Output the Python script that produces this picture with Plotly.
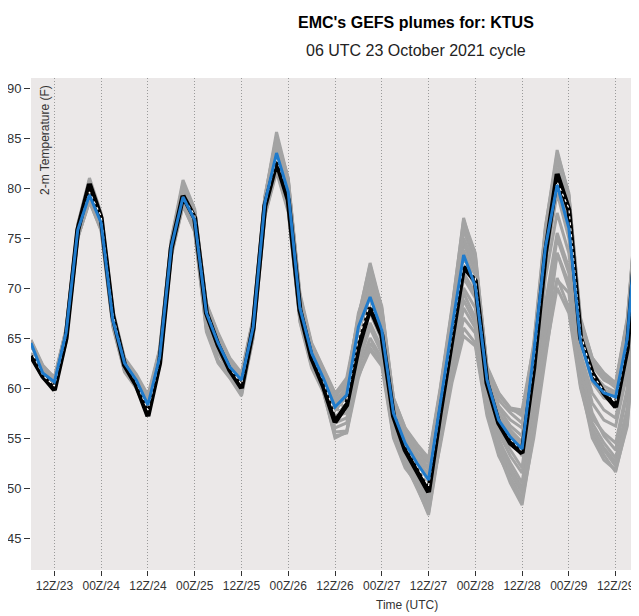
import pandas as pd
import plotly.graph_objects as go

# 3-hourly forecast times from the 06 UTC 23 Oct 2021 cycle
times = pd.date_range("2021-10-23 06:00", periods=53, freq="3h")

tick_times = pd.date_range("2021-10-23 12:00", periods=13, freq="12h")
tick_labels = ["12Z/23", "00Z/24", "12Z/24", "00Z/25", "12Z/25", "00Z/26", "12Z/26",
               "00Z/27", "12Z/27", "00Z/28", "12Z/28", "00Z/29", "12Z/29"]
y_ticks = [45, 50, 55, 60, 65, 70, 75, 80, 85, 90]

ens_mean = [64.5, 61.5, 60.6, 65.5, 75.8, 79.3, 76.5, 66.8, 62.5, 60.8, 58.3, 63.1, 74.1, 79.1,
            76.8, 67.5, 64.5, 62.1, 60.8, 66.1, 78.5, 83.5, 79.6, 68.0, 63.5, 61.0, 58.1, 59.3,
            66.1, 69.1, 65.8, 57.5, 54.5, 52.5, 50.8, 58.5, 66.0, 73.3, 70.2, 60.8, 56.8, 55.1,
            53.9, 63.5, 74.1, 80.3, 76.0, 64.6, 60.8, 59.5, 59.1, 65.0, 79.5]

control = [63.2, 61.2, 59.8, 65.0, 75.8, 80.4, 77.0, 67.2, 62.3, 60.3, 57.2, 62.5, 74.0, 79.2,
           77.0, 67.5, 64.3, 61.8, 60.0, 66.0, 78.2, 82.6, 78.8, 67.8, 63.0, 60.2, 56.6, 58.3,
           64.0, 68.0, 65.3, 57.2, 53.8, 51.8, 49.6, 57.5, 64.5, 72.1, 70.7, 60.5, 56.5, 54.5,
           53.5, 62.0, 73.5, 81.4, 77.8, 65.0, 61.5, 59.5, 58.1, 64.0, 78.5]

deterministic = [63.8, 61.3, 60.2, 65.2, 75.8, 79.6, 77.2, 67.4, 62.5, 60.6, 57.8, 62.8, 74.0, 79.1,
                 77.3, 67.8, 64.5, 62.0, 60.4, 66.0, 78.3, 83.0, 79.5, 68.3, 63.4, 60.7, 57.4, 58.8,
                 65.0, 68.5, 66.0, 57.8, 54.3, 52.2, 50.2, 58.0, 65.2, 72.6, 71.0, 61.0, 56.9, 54.9,
                 53.7, 62.6, 73.8, 80.6, 78.0, 65.5, 61.4, 59.7, 58.6, 64.5, 79.0]

member_01 = [64.8, 62.3, 61.0, 65.8, 76.3, 80.8, 77.3, 67.6, 62.9, 61.2, 59.0, 63.8, 74.8, 80.5, 77.6, 68.3, 65.2, 62.8, 61.4, 66.8, 79.0, 85.2, 80.8, 69.2, 64.2, 61.8, 59.2, 60.5, 67.2, 72.3, 67.8, 58.8, 55.5, 53.6, 52.5, 59.5, 67.5, 76.5, 73.0, 61.8, 58.8, 57.5, 56.5, 64.0, 75.5, 83.5, 79.5, 66.5, 62.8, 61.2, 60.3, 66.5, 80.8]
member_02 = [63.2, 61.0, 59.9, 64.6, 75.1, 78.6, 75.8, 66.2, 61.7, 60.1, 57.3, 62.2, 73.2, 78.2, 75.7, 65.8, 62.6, 61.1, 59.3, 65.1, 77.3, 81.8, 77.8, 66.7, 62.2, 59.7, 55.0, 55.6, 61.5, 64.0, 62.5, 55.2, 52.3, 50.2, 47.3, 54.5, 61.0, 66.0, 64.5, 57.5, 53.5, 50.5, 48.3, 55.5, 63.5, 70.0, 67.5, 60.0, 55.5, 53.3, 51.6, 56.5, 70.2]
member_03 = [64.2, 61.8, 60.4, 65.2, 75.6, 79.8, 76.9, 67.0, 62.4, 60.6, 58.0, 63.4, 74.3, 79.6, 77.2, 67.8, 64.8, 62.4, 60.5, 66.4, 78.7, 84.2, 80.2, 68.5, 63.9, 61.4, 58.6, 59.8, 66.8, 70.5, 66.5, 58.0, 55.0, 52.9, 51.3, 58.8, 66.5, 74.5, 71.5, 61.2, 57.5, 55.8, 54.6, 63.2, 75.0, 82.0, 78.0, 65.5, 61.5, 60.2, 59.6, 65.8, 80.0]
member_04 = [63.8, 61.4, 60.2, 65.0, 75.3, 79.0, 76.2, 66.5, 62.0, 60.4, 57.8, 62.7, 73.6, 78.5, 76.0, 66.6, 63.5, 61.6, 60.0, 65.6, 77.8, 82.4, 78.5, 67.3, 62.8, 60.3, 57.0, 58.0, 63.5, 66.2, 63.8, 56.2, 53.2, 51.2, 49.0, 56.3, 63.2, 69.5, 67.0, 59.0, 54.8, 52.5, 50.5, 58.5, 68.5, 75.5, 72.0, 62.5, 57.5, 55.2, 53.8, 59.5, 74.0]
member_05 = [64.6, 62.0, 60.9, 65.9, 76.0, 80.2, 77.0, 67.3, 62.8, 61.0, 58.8, 63.6, 74.6, 80.0, 77.5, 68.0, 65.0, 62.6, 61.0, 66.6, 78.9, 84.8, 80.5, 68.8, 64.0, 61.6, 59.0, 60.8, 66.0, 71.5, 67.2, 58.5, 55.8, 54.0, 52.8, 59.8, 67.8, 77.0, 72.8, 62.0, 59.2, 58.0, 57.8, 64.2, 76.0, 83.8, 79.2, 67.0, 63.0, 61.5, 60.5, 67.0, 81.0]
member_06 = [64.0, 61.6, 60.6, 65.4, 75.8, 79.5, 76.6, 66.9, 62.5, 60.7, 58.4, 63.0, 74.0, 79.0, 76.7, 67.4, 64.2, 62.0, 60.7, 66.0, 78.4, 83.3, 79.4, 67.9, 63.4, 60.9, 57.8, 58.6, 65.0, 68.5, 65.5, 57.3, 54.2, 52.0, 50.2, 57.8, 65.2, 72.8, 70.0, 60.5, 56.5, 54.8, 53.2, 61.8, 73.5, 80.8, 76.8, 64.8, 60.6, 59.0, 58.6, 64.5, 79.2]
member_07 = [63.5, 61.2, 60.0, 65.0, 75.0, 78.8, 75.9, 66.3, 61.8, 60.0, 57.5, 62.4, 73.4, 78.4, 75.8, 66.0, 62.8, 61.3, 59.5, 65.3, 77.5, 82.0, 78.0, 67.0, 62.3, 59.9, 55.6, 55.7, 62.0, 65.0, 63.0, 55.8, 52.8, 50.8, 48.2, 55.2, 62.0, 68.0, 66.0, 58.2, 54.0, 51.5, 49.5, 57.0, 66.0, 73.5, 70.5, 61.5, 56.5, 54.5, 53.0, 58.0, 72.0]
member_08 = [64.4, 61.9, 60.7, 65.6, 76.1, 80.0, 76.8, 67.4, 62.9, 60.9, 58.6, 63.5, 74.5, 79.8, 77.3, 68.2, 65.3, 62.9, 61.2, 66.9, 79.0, 85.6, 80.9, 69.0, 64.4, 61.9, 59.4, 61.0, 67.0, 72.5, 68.0, 59.0, 56.0, 54.4, 53.0, 60.0, 68.0, 76.8, 73.5, 62.0, 59.5, 57.8, 57.5, 63.0, 75.2, 82.8, 78.5, 66.0, 62.5, 61.0, 60.0, 66.2, 80.5]
member_09 = [64.1, 61.7, 60.3, 65.3, 75.5, 79.2, 76.4, 66.6, 62.3, 60.6, 58.2, 63.2, 74.2, 79.3, 76.9, 67.2, 64.0, 61.8, 60.3, 65.9, 78.3, 83.8, 79.8, 68.2, 63.6, 61.2, 58.2, 59.0, 64.5, 67.5, 64.8, 56.8, 53.8, 51.8, 50.0, 57.0, 64.5, 71.5, 69.5, 60.0, 55.8, 53.8, 52.0, 61.0, 72.5, 79.5, 75.0, 63.5, 59.5, 57.8, 57.0, 62.5, 77.5]
member_10 = [63.7, 61.3, 60.1, 64.9, 75.2, 78.9, 76.0, 66.4, 61.9, 60.2, 57.7, 62.6, 73.5, 78.7, 76.1, 66.8, 63.7, 61.5, 59.9, 65.5, 77.9, 82.9, 78.9, 67.5, 63.0, 60.6, 57.2, 57.5, 62.8, 66.5, 64.0, 56.5, 53.5, 51.0, 48.8, 55.8, 63.0, 70.0, 68.0, 59.5, 55.0, 52.0, 50.0, 56.0, 64.5, 73.5, 70.0, 61.0, 56.0, 54.0, 52.6, 57.5, 71.0]
member_11 = [64.3, 61.6, 60.5, 65.5, 75.9, 79.6, 76.7, 67.1, 62.6, 60.9, 58.5, 63.3, 74.4, 79.4, 77.0, 67.6, 64.6, 62.2, 60.9, 66.3, 78.6, 83.9, 79.9, 68.3, 63.7, 61.3, 58.7, 60.0, 66.5, 70.0, 66.3, 57.8, 55.2, 53.2, 51.8, 59.0, 66.8, 75.0, 72.0, 61.5, 58.0, 56.2, 55.2, 63.5, 74.8, 81.8, 77.5, 65.2, 61.2, 59.8, 59.4, 65.5, 79.8]
member_12 = [63.9, 61.5, 60.3, 65.1, 75.4, 79.1, 76.3, 66.7, 62.2, 60.5, 58.0, 62.9, 73.9, 78.9, 76.4, 67.0, 63.9, 61.7, 60.2, 65.8, 78.1, 82.2, 78.3, 67.6, 62.9, 60.5, 56.5, 57.0, 61.2, 63.8, 62.2, 55.0, 52.0, 50.5, 48.5, 54.2, 60.5, 65.2, 64.2, 57.2, 53.2, 51.0, 49.0, 56.5, 67.0, 75.0, 71.5, 62.0, 57.0, 55.5, 54.5, 60.0, 73.5]
member_13 = [64.6, 62.1, 60.8, 65.7, 76.2, 80.5, 77.2, 67.5, 62.8, 61.1, 58.9, 63.7, 74.7, 80.3, 77.7, 68.4, 65.4, 62.7, 61.3, 66.7, 78.8, 84.5, 80.6, 69.3, 64.3, 61.7, 59.3, 60.2, 67.5, 71.0, 67.0, 58.6, 55.4, 53.5, 52.0, 59.2, 67.2, 75.8, 72.5, 61.6, 58.2, 56.8, 56.0, 64.0, 75.8, 83.0, 78.8, 66.2, 62.2, 60.8, 60.2, 66.8, 80.6]
member_14 = [63.6, 61.1, 59.9, 64.7, 75.0, 78.7, 75.7, 66.1, 61.6, 60.0, 57.4, 62.3, 73.3, 78.3, 75.6, 65.6, 62.5, 61.0, 59.2, 65.0, 77.2, 81.6, 77.6, 66.6, 62.0, 59.6, 55.2, 55.5, 61.0, 64.5, 62.8, 55.5, 52.5, 50.0, 47.5, 54.8, 61.5, 67.0, 65.5, 58.0, 53.8, 50.8, 48.8, 55.0, 63.0, 71.0, 68.0, 60.5, 55.0, 52.8, 51.8, 56.2, 70.5]
member_15 = [64.4, 61.8, 60.6, 65.4, 75.7, 79.4, 76.5, 66.9, 62.4, 60.8, 58.3, 63.2, 74.2, 79.2, 76.8, 67.5, 64.4, 62.1, 60.7, 66.2, 78.5, 83.6, 79.5, 68.0, 63.5, 61.0, 58.3, 59.5, 66.2, 69.5, 65.8, 57.6, 54.6, 52.6, 51.0, 58.6, 66.2, 73.8, 70.8, 61.0, 57.0, 55.5, 54.2, 63.0, 74.5, 81.2, 77.0, 64.8, 61.0, 59.6, 59.2, 65.2, 79.6]
member_16 = [64.0, 61.4, 60.2, 65.2, 75.6, 79.7, 76.6, 66.8, 62.1, 60.6, 57.9, 63.0, 74.1, 79.5, 76.9, 67.3, 64.1, 61.9, 60.4, 66.0, 78.2, 83.0, 79.0, 67.7, 63.2, 60.8, 57.5, 58.8, 64.8, 68.0, 65.0, 57.0, 54.0, 51.5, 49.5, 56.8, 64.0, 71.0, 69.0, 59.8, 55.5, 53.2, 51.5, 59.5, 71.0, 77.5, 73.5, 63.0, 58.5, 56.8, 56.2, 61.5, 76.0]
member_17 = [63.9, 61.3, 60.1, 65.0, 75.3, 79.1, 76.1, 66.5, 62.0, 60.3, 57.6, 62.5, 73.7, 78.8, 76.2, 66.9, 63.6, 61.4, 59.8, 65.4, 77.7, 82.6, 78.6, 67.2, 62.6, 60.1, 56.0, 56.5, 62.5, 66.0, 63.5, 56.0, 53.0, 50.6, 48.0, 55.5, 62.5, 68.8, 66.5, 58.5, 54.2, 51.8, 49.8, 56.8, 65.5, 70.8, 69.5, 60.2, 55.8, 53.8, 52.2, 57.0, 69.8]
member_18 = [64.7, 62.2, 61.1, 65.9, 76.4, 81.0, 77.5, 67.8, 63.0, 61.4, 59.3, 63.9, 74.9, 80.8, 77.9, 68.5, 65.5, 63.0, 61.5, 67.0, 79.2, 85.0, 81.0, 69.5, 64.5, 62.0, 59.5, 60.6, 66.5, 71.8, 68.2, 59.0, 56.0, 54.2, 52.6, 59.7, 67.6, 76.2, 73.3, 62.2, 59.5, 58.0, 57.2, 64.5, 76.2, 83.2, 79.3, 66.8, 63.0, 61.4, 60.4, 66.8, 81.0]

members = [member_01, member_02, member_03, member_04, member_05, member_06, member_07,
           member_08, member_09, member_10, member_11, member_12, member_13, member_14,
           member_15, member_16, member_17, member_18]

TEXT = "#333333"
FONT = "Liberation Sans, Arial, sans-serif"

fig = go.Figure()

# ensemble members in gray
for vals in members:
    fig.add_trace(go.Scatter(x=times, y=vals, mode="lines",
                             line=dict(color="#a3a3a3", width=3),
                             hoverinfo="skip", showlegend=False))

fig.add_trace(go.Scatter(x=times, y=control, mode="lines",
                         line=dict(color="black", width=5), showlegend=False))
fig.add_trace(go.Scatter(x=times, y=deterministic, mode="lines",
                         line=dict(color="white", width=1.2, dash="dot"), showlegend=False))
fig.add_trace(go.Scatter(x=times, y=ens_mean, mode="lines",
                         line=dict(color="#1f7bcc", width=3), showlegend=False))

# page body adds an 8px offset, so the figure is sized 8px smaller each way
fig.update_layout(
    width=631, height=608,
    margin=dict(l=23, r=0, t=70, b=46),
    paper_bgcolor="white",
    plot_bgcolor="#ebe8e8",
    font=dict(family=FONT, color=TEXT, size=12),
    showlegend=False,
    xaxis=dict(
        range=["2021-10-23 06:00", "2021-10-29 18:00"],
        tickvals=tick_times, ticktext=tick_labels,
        ticks="outside", ticklen=5, tickcolor=TEXT,
        showgrid=True, gridcolor="#9a9a9a", griddash="1px,2px", gridwidth=1,
        zeroline=False, showline=False, automargin=False,
        tickfont=dict(size=12, color=TEXT),
    ),
    yaxis=dict(
        range=[41.8, 91.0],
        tickvals=y_ticks,
        ticks="outside", ticklen=6, tickcolor=TEXT,
        showgrid=False, zeroline=False, showline=False, automargin=False,
        tickfont=dict(size=13, color=TEXT),
    ),
    annotations=[
        dict(text="<b>EMC's GEFS plumes for: KTUS</b>", xref="paper", yref="paper",
             x=(416 - 31) / 608, y=1, yshift=56, xanchor="center", yanchor="middle",
             showarrow=False, font=dict(size=16, color="black")),
        dict(text="06 UTC 23 October 2021 cycle", xref="paper", yref="paper",
             x=(416 - 31) / 608, y=1, yshift=28, xanchor="center", yanchor="middle",
             showarrow=False, font=dict(size=16, color="#222222")),
        dict(text="Time (UTC)", xref="paper", yref="paper",
             x=(407 - 31) / 608, y=0, yshift=-35, xanchor="center", yanchor="middle",
             showarrow=False, font=dict(size=12, color=TEXT)),
        dict(text="2-m Temperature (F)", xref="paper", yref="paper",
             x=(45 - 31) / 608, y=1, yshift=-5, xanchor="center", yanchor="top",
             textangle=-90, showarrow=False, font=dict(size=12, color=TEXT)),
    ],
)

fig.write_html("out.html")
